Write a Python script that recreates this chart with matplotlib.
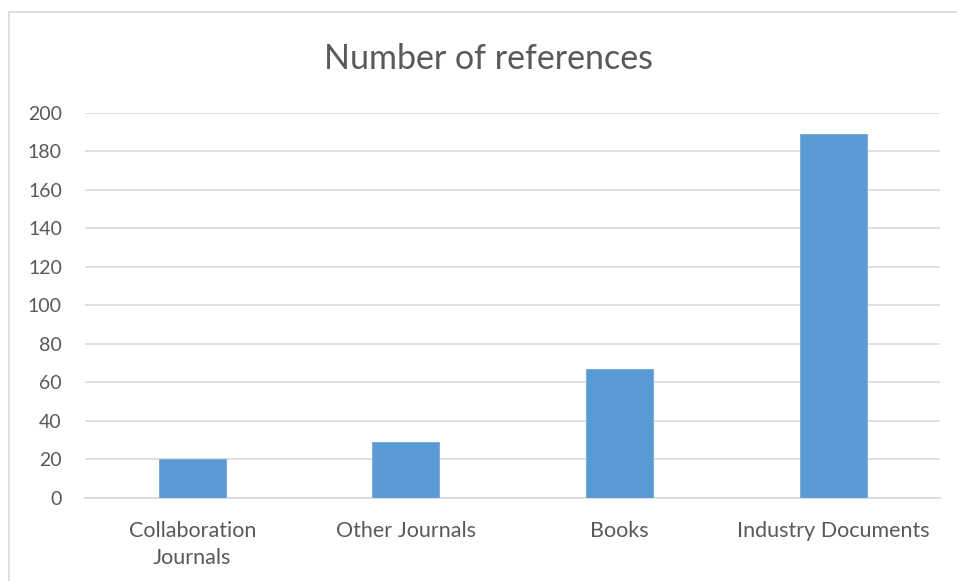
import matplotlib
matplotlib.use("Agg")
import matplotlib.pyplot as plt
from matplotlib.patches import Rectangle

# reference counts per source type
categories = ["Collaboration\nJournals", "Other Journals", "Books", "Industry Documents"]
counts = [20, 29, 67, 189]
y_ticks = list(range(0, 201, 20))

BAR_COLOR = "#5B9BD5"
GRID_COLOR = "#D9D9D9"
TEXT_COLOR = "#595959"

plt.rcParams['font.family'] = ['Lato', 'DejaVu Sans']

fig = plt.figure(figsize=(9.57, 5.81), dpi=100)
ax = fig.add_axes([0.0893, 0.1434, 0.8929, 0.6627])

# light chart frame, running off the right and bottom edges
W, H = 957, 581
fig.patches.append(Rectangle((9 / W, -0.05), 1.1, (H - 12) / H + 0.05,
                             transform=fig.transFigure, fill=False,
                             edgecolor=GRID_COLOR, linewidth=1.2))

x = range(len(categories))
ax.bar(x, counts, width=0.313, color=BAR_COLOR, edgecolor="#6FA8DC",
       linewidth=0.6, zorder=3)

ax.set_xlim(-0.5, len(categories) - 0.5)
ax.set_ylim(0, 200)
ax.set_yticks(y_ticks)
ax.set_xticks(list(x))
ax.set_xticklabels(categories, linespacing=1.45)

ax.yaxis.grid(True, color=GRID_COLOR, linewidth=1.2, zorder=0)
ax.set_axisbelow(True)
for side in ("top", "right", "left"):
    ax.spines[side].set_visible(False)
ax.spines["bottom"].set_color(GRID_COLOR)
ax.spines["bottom"].set_linewidth(1.2)

ax.tick_params(axis="both", length=0, colors=TEXT_COLOR)
ax.tick_params(axis="x", pad=17, labelsize=15.5)
ax.tick_params(axis="y", pad=17, labelsize=14)

fig.text(489 / W, 1 - 59 / H, "Number of references", ha="center",
         va="center", fontsize=24.5, color=TEXT_COLOR)

fig.savefig("out.png", dpi=100)
